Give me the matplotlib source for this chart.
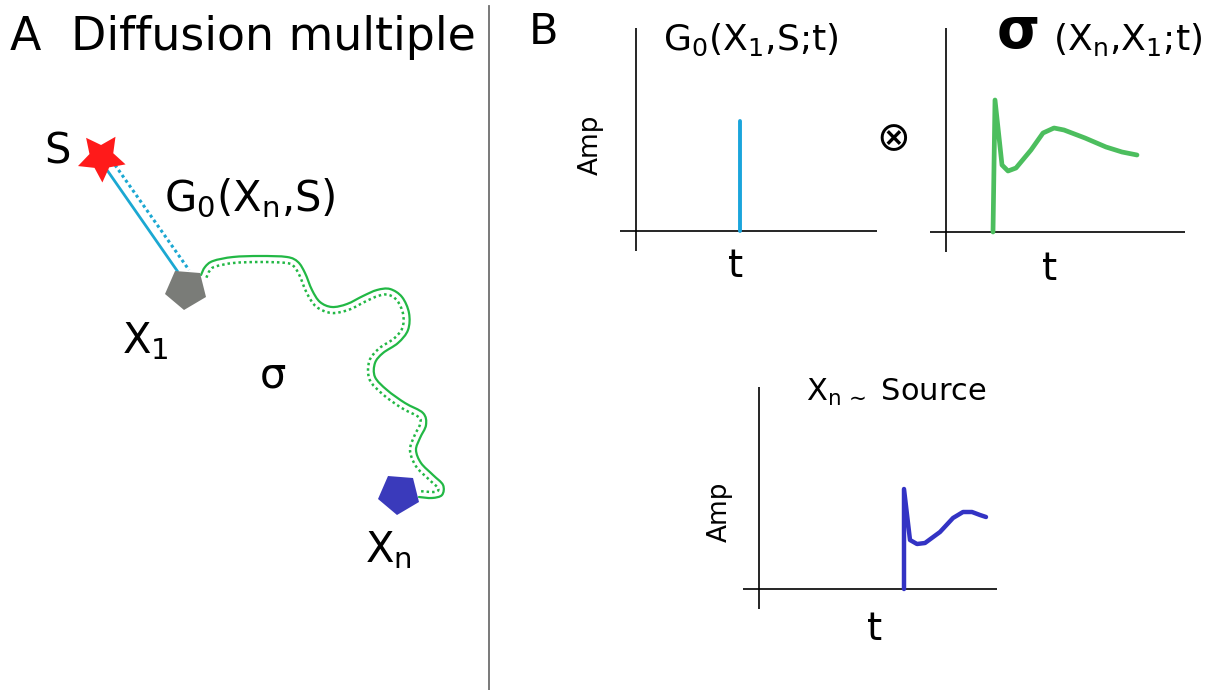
import numpy as np
import matplotlib
matplotlib.use("Agg")
import matplotlib.pyplot as plt
from matplotlib.markers import MarkerStyle
from matplotlib.transforms import Affine2D
from matplotlib.path import Path
from matplotlib.patches import PathPatch

plt.rcParams['font.family'] = ['DejaVu Sans']
plt.rcParams['mathtext.fontset'] = 'dejavusans'

W, H = 1217, 690

# ---------------- Panel A schematic (pixel coordinates) ----------------
star_xy = (101, 157)
x1_xy = (186, 289)
xn_xy = (399, 494)
g0_solid_x = [107, 178]
g0_solid_y = [170, 272]
g0_dot_x = [115, 189]
g0_dot_y = [165, 270]
path_x = [201, 205, 213, 233, 260, 287, 298, 305, 312, 320, 332, 347, 363, 377,
          390, 402, 409, 408, 398, 383, 375, 375, 387, 405, 423, 426, 420, 416,
          421, 433, 443, 442, 432, 419]
path_y = [275, 267, 261, 257, 256, 257, 262, 273, 290, 302, 307, 304, 296, 290,
          289, 297, 313, 330, 343, 353, 363, 377, 390, 403, 413, 425, 438, 450,
          463, 475, 485, 495, 498, 497]

# ---------------- Panel B waveforms (arbitrary units) ----------------
g0_t = [4.16, 4.16]
g0_amp = [0.0, 5.5]
sigma_t = [1.88, 1.96, 2.24, 2.48, 2.8, 3.4, 3.88, 4.32, 4.72, 5.56, 6.4, 7.04, 7.64]
sigma_amp = [0.0, 6.6, 3.35, 3.05, 3.2, 4.1, 4.95, 5.2, 5.1, 4.7, 4.25, 4.0, 3.85]
src_t = [5.8, 5.8, 6.04, 6.32, 6.64, 7.24, 7.76, 8.16, 8.52, 8.84, 9.08]
src_amp = [0.0, 5.0, 2.45, 2.25, 2.3, 2.85, 3.55, 3.85, 3.85, 3.7, 3.6]

fig = plt.figure(figsize=(W / 100, H / 100), dpi=100)
ax = fig.add_axes([0, 0, 1, 1])
ax.set_xlim(0, W)
ax.set_ylim(H, 0)
ax.axis('off')


def smooth_path(xs, ys):
    """Bezier path through the given vertices (Catmull-Rom handles)."""
    p = np.column_stack([xs, ys]).astype(float)
    n = len(p)
    verts = [p[0]]
    codes = [Path.MOVETO]
    for i in range(n - 1):
        p0 = p[max(i - 1, 0)]
        p1 = p[i]
        p2 = p[i + 1]
        p3 = p[min(i + 2, n - 1)]
        c1 = p1 + (p2 - p0) / 6.0
        c2 = p2 - (p3 - p1) / 6.0
        verts += [c1, c2, p2]
        codes += [Path.CURVE4] * 3
    return Path(verts, codes)


# divider
ax.plot([489, 489], [6, 690], color='#6e6e6e', lw=1.3)

# titles
ax.text(10, 50, 'A', fontsize=33, va='baseline', ha='left')
ax.text(71, 50, 'Diffusion multiple', fontsize=33, va='baseline', ha='left')
ax.text(529, 44, 'B', fontsize=31, va='baseline', ha='left')

# G0 link (solid + dotted)
ax.plot(g0_solid_x, g0_solid_y, color='#1ba8d2', lw=2.0, solid_capstyle='butt')
ax.plot(g0_dot_x, g0_dot_y, color='#1ba8d2', lw=2.2, linestyle=(0, (1, 1)))

# green wavy path, solid and offset dotted
px = np.array(path_x, float)
py = np.array(path_y, float)
ax.add_patch(PathPatch(smooth_path(px, py), fill=False, edgecolor='#22b845',
                       lw=1.6, joinstyle='round', capstyle='round'))
dx = np.gradient(px)
dy = np.gradient(py)
nrm = np.hypot(dx, dy)
off = 6.0
ax.add_patch(PathPatch(smooth_path(px - off * dy / nrm, py + off * dx / nrm),
                       fill=False, edgecolor='#22b845', lw=1.8,
                       linestyle=(0, (1, 1.2))))

# nodes
star_shape = Path.unit_regular_star(5, innerCircle=0.5)
star_shape = Affine2D().rotate_deg(182).transform_path(star_shape)
ax.plot(*star_xy, marker=MarkerStyle(star_shape),
        markersize=36, color='#ff1a1a', markeredgewidth=0, zorder=5)
ax.plot(*x1_xy, marker=MarkerStyle('p', transform=Affine2D().rotate_deg(175)),
        markersize=31, color='#7a7c78', markeredgewidth=0, zorder=5)
ax.plot(*xn_xy, marker=MarkerStyle('p', transform=Affine2D().rotate_deg(176)),
        markersize=31, color='#3a3abb', markeredgewidth=0, zorder=5)

# labels panel A
ax.text(44, 163, 'S', fontsize=30, va='baseline')
ax.text(164, 211, r'G$_0$(X$_\mathrm{n}$,S)', fontsize=30, va='baseline')
ax.text(122, 353, r'X$_1$', fontsize=30, va='baseline')
ax.text(260, 387, 'σ', fontsize=30, va='baseline')
ax.text(365, 562, r'X$_\mathrm{n}$', fontsize=30, va='baseline')


def small_plot(box, origin, xs, ys, color, lw):
    # box: (left, top, right, bottom) in pixels; origin: (x0, y0) pixels
    l, t, r, b = box
    x0, y0 = origin
    sx, sy = 25.0, 20.0
    a = fig.add_axes([l / W, 1 - b / H, (r - l) / W, (b - t) / H])
    a.set_xlim((l - x0) / sx, (r - x0) / sx)
    a.set_ylim((y0 - b) / sy, (y0 - t) / sy)
    a.axis('off')
    a.axhline(0, color='black', lw=1.2)
    a.axvline(0, color='black', lw=1.2)
    a.plot(xs, ys, color=color, lw=lw, solid_joinstyle='round',
           solid_capstyle='round')
    return a


small_plot((620, 28, 877, 251), (636, 231), g0_t, g0_amp, '#1aa5dc', 2.8)
small_plot((930, 28, 1185, 252), (946, 232), sigma_t, sigma_amp, '#4cbe5e', 3.4)
small_plot((743, 387, 997, 609), (759, 589), src_t, src_amp, '#3333c4', 3.2)

# labels panel B
ax.text(591, 145, 'Amp', fontsize=19, rotation=90, ha='center', va='center')
ax.text(720, 512, 'Amp', fontsize=19, rotation=90, ha='center', va='center')
ax.text(736, 277, 't', fontsize=28, ha='center', va='baseline')
ax.text(1050, 280, 't', fontsize=28, ha='center', va='baseline')
ax.text(875, 640, 't', fontsize=28, ha='center', va='baseline')
ax.text(663, 50, r'G$_0$(X$_1$,S;t)', fontsize=26, va='baseline')
ax.text(997, 48, 'σ', fontsize=40, fontweight='bold', va='baseline')
ax.text(1053, 50, r'(X$_\mathrm{n}$,X$_1$;t)', fontsize=26, va='baseline')
ax.text(806, 401, r'X$_{\mathrm{n}\,\sim}$ Source', fontsize=22, va='baseline')
ax.text(893, 139, '⊗', fontsize=29, ha='center', va='center')

fig.savefig('out.png', dpi=100)
